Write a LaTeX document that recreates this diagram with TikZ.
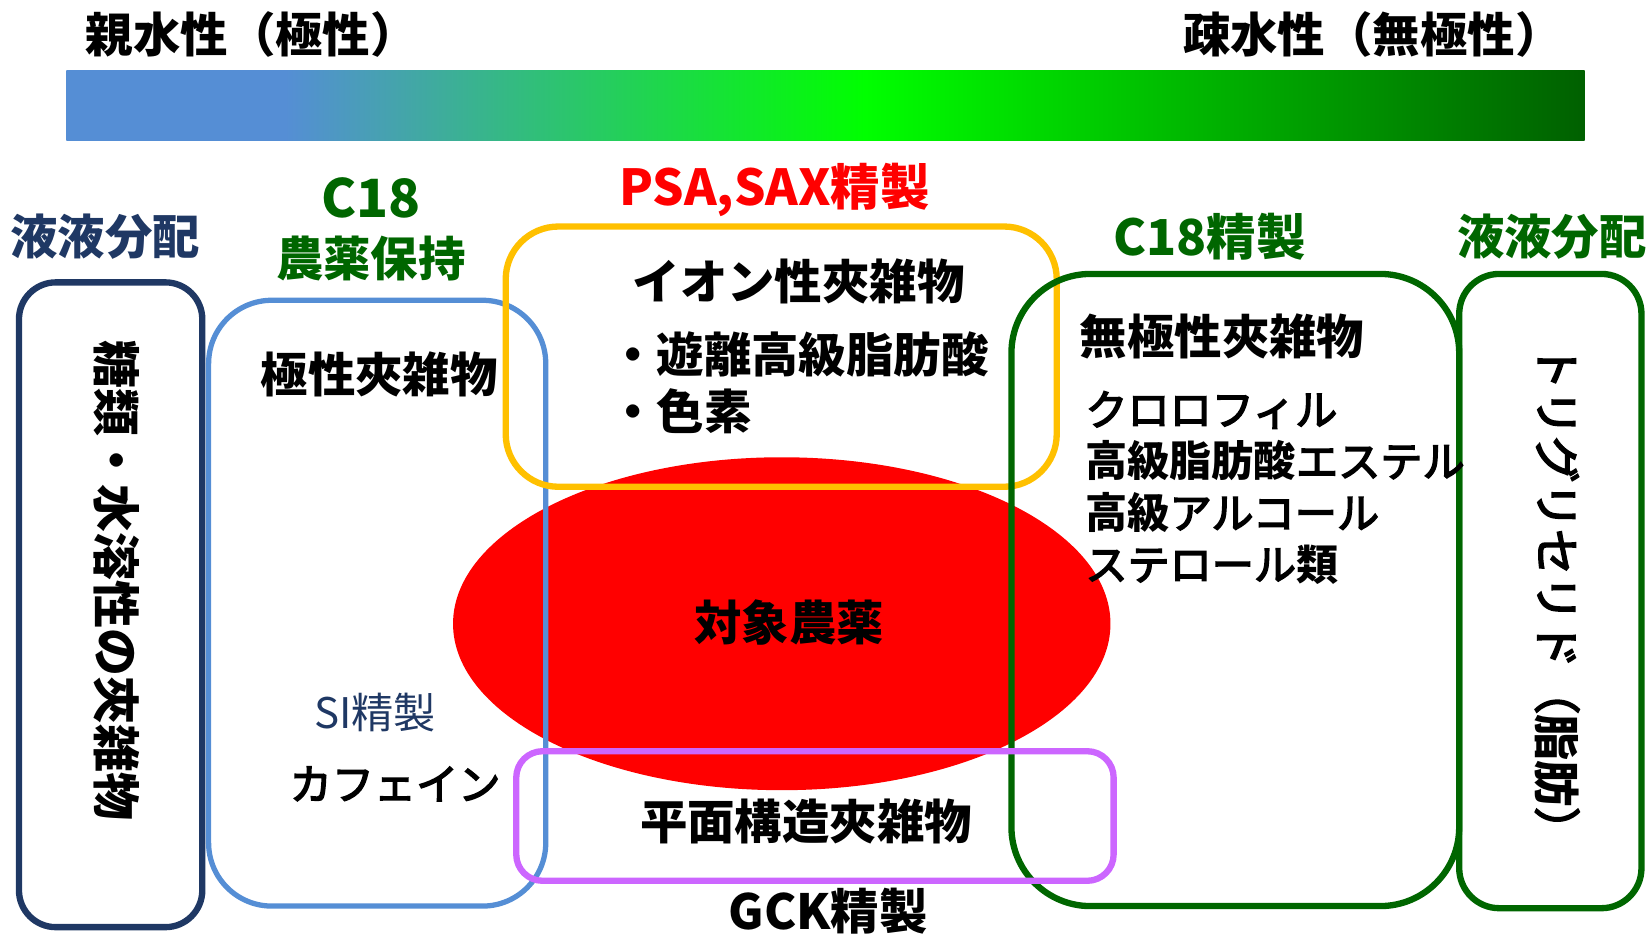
\documentclass[tikz,border=0pt]{standalone}
\usepackage{fontspec}
\setmainfont{Noto Sans CJK JP}
\newfontfamily\kmed{Noto Sans CJK JP}[FakeBold=3.5]
\usetikzlibrary{shapes.geometric}
\definecolor{navy}{RGB}{31,56,100}
\definecolor{barblue}{RGB}{85,142,213}
\definecolor{bargreen}{RGB}{0,255,0}
\definecolor{bardark}{RGB}{0,96,0}
\definecolor{boxblue}{RGB}{85,142,213}
\definecolor{boxyellow}{RGB}{255,192,0}
\definecolor{dgreen}{RGB}{0,102,0}
\definecolor{boxpurple}{RGB}{204,102,255}
\pgfdeclarehorizontalshading{polarity}{100bp}{color(0bp)=(barblue); color(25bp)=(barblue); color(32.2bp)=(barblue); color(51.3bp)=(bargreen); color(75bp)=(bardark); color(100bp)=(bardark)}
\newcommand{\kb}[1]{{\normalfont\bfseries #1}}
\begin{document}
\begin{tikzpicture}[x=1pt,y=-1pt,
  lbl/.style={inner sep=0pt, font=\fontsize{45}{50}\selectfont\bfseries},
  item/.style={inner sep=0pt, font=\fontsize{40}{49}\selectfont\kmed},
  rbox/.style={draw, line width=6pt, rounded corners=#1, inner sep=0pt, fill=none},
]
\useasboundingbox (0,0) rectangle (1568,887);

% gradient bar
\shade[shading=polarity] (63,67) rectangle (1504,133);

% titles
\node[lbl] (hydro) at (239,33) {親水性（極性）};
\node[lbl] (phobic) at (1303,33) {疎水性（無極性）};

% target ellipse
\node[ellipse, fill=red, minimum width=624, minimum height=316, inner sep=0pt] (target) at (742,592) {};
\node[lbl] (targetlabel) at (749,591) {対象農薬};

% boxes
\node[rbox=35, draw=navy, minimum width=174, minimum height=612] (lbox) at (105,574) {};
\node[rbox=60, draw=boxblue, line width=5pt, minimum width=320, minimum height=575] (bbox) at (358,572.5) {};
\node[rbox=50, draw=boxyellow, minimum width=523, minimum height=247] (ybox) at (741.5,338.5) {};
\node[rbox=75, draw=dgreen, minimum width=425, minimum height=600] (gbox) at (1172.5,560) {};
\node[rbox=38, draw=dgreen, minimum width=173, minimum height=602] (rbox) at (1471.5,561) {};
\node[rbox=25, draw=boxpurple, minimum width=567, minimum height=123] (pbox) at (773.5,774.5) {};

% labels
\node[lbl, text=navy] (llabel) at (100,225) {液液分配};
\node[lbl, text=dgreen, font=\fontsize{50}{55}\selectfont\bfseries] (c18a) at (352,188) {C18};
\node[lbl, text=dgreen] (c18b) at (352,245) {農薬保持};
\node[lbl, text=red, font=\fontsize{47}{52}\selectfont\bfseries] (psa) at (735,180) {PSA,SAX精製};
\node[lbl, text=dgreen, font=\fontsize{47}{52}\selectfont\bfseries] (c18p) at (1148,225) {C18精製};
\node[lbl, text=dgreen] (rlabel) at (1473,225) {液液分配};
\node[lbl, font=\fontsize{46}{50}\selectfont\bfseries] (gck) at (786,865) {GCK精製};

% contents
\node[lbl, rotate=-90, font=\fontsize{45.5}{50}\selectfont\bfseries] (sugar) at (111,551) {糖類・水溶性の夾雑物};
\node[item, rotate=-90, font=\fontsize{44}{49}\selectfont\kmed] (tri) at (1478,568) {トリグリセリド（\kb{脂肪}）};
\node[lbl] (polar) at (360,355) {極性夾雑物};
\node[item, text=navy, font=\fontsize{40}{49}\selectfont] (si) at (356,676) {SI精製};
\node[item] (caff) at (375,744) {カフェイン};
\node[lbl] (ionic) at (758,267) {イオン性夾雑物};
\node[lbl, anchor=west] (ffa) at (578,336) {・遊離高級脂肪酸};
\node[lbl, anchor=west] (pig) at (578,390) {・色素};
\node[lbl] (nonpolar) at (1160,319) {無極性夾雑物};
\node[item, anchor=west, align=left] (list) at (1030,463) {クロロフィル\\\kb{高級脂肪酸}エステル\\\kb{高級}アルコール\\ステロール\kb{類}};
\node[lbl] (planar) at (765,780) {平面構造夾雑物};
\end{tikzpicture}
\end{document}
